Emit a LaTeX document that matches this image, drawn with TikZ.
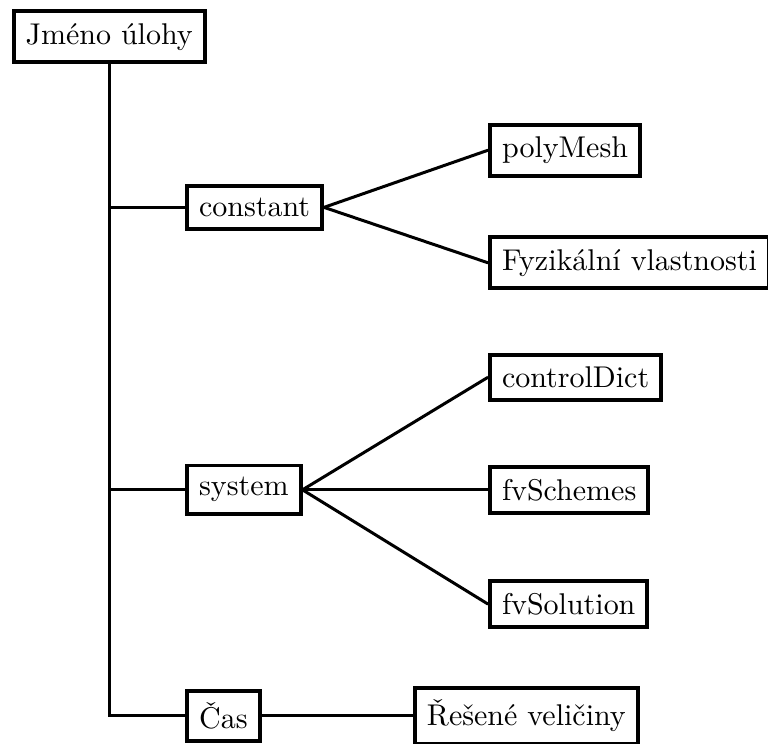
\documentclass[tikz,border=0pt]{standalone}
\usetikzlibrary{calc}
\begin{document}
\begin{tikzpicture}[box/.style={draw, line width=1.3pt, inner sep=4pt},
 line/.style={line width=1pt}]
\useasboundingbox (0,0) rectangle (9.0,-8.71);
\node[box] (root) at (1.28,-0.43) {Jméno úlohy};
\node[box, anchor=west] (constant) at (2.17,-2.43) {constant};
\node[box, anchor=west] (system) at (2.17,-5.74) {system};
\node[box, anchor=west] (cas) at (2.17,-8.39) {Čas};
\node[box, anchor=west] (polymesh) at (5.72,-1.76) {polyMesh};
\node[box, anchor=west] (fyz) at (5.72,-3.08) {Fyzikální vlastnosti};
\node[box, anchor=west] (control) at (5.72,-4.42) {controlDict};
\node[box, anchor=west] (schemes) at (5.72,-5.74) {fvSchemes};
\node[box, anchor=west] (solution) at (5.72,-7.08) {fvSolution};
\node[box, anchor=west] (reseni) at (4.84,-8.39) {Řešené veličiny};
% strom
\draw[line] (root.south) -- (root |- cas.west) -- (cas.west);
\draw[line] (root |- constant.west) -- (constant.west);
\draw[line] (root |- system.west) -- (system.west);
\draw[line] (cas.east) -- (reseni.west);
\foreach \n in {polymesh,fyz}
 \draw[line] (constant.east) -- (\n.west);
\foreach \n in {control,schemes,solution}
 \draw[line] (system.east) -- (\n.west);
\end{tikzpicture}
\end{document}
